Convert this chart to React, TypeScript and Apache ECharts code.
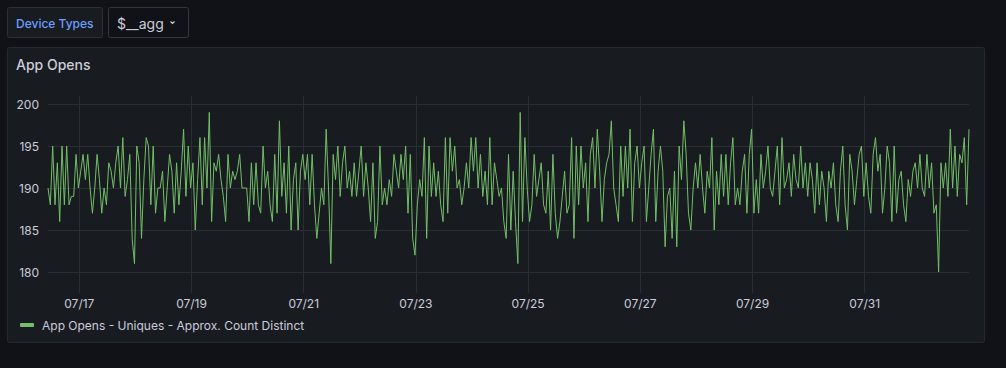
import React, { useEffect, useRef } from "react";
import * as echarts from "echarts";

// Hourly values, App Opens - Uniques - Approx. Count Distinct
const opensA = [190,188,195,188,193,186,195,188,195,188,189,189,194,190,192,194,191,194,190,187,190,194,191,187,190,188,193,192,190,193,195,190,196,189,191,194,184,181,195,193,184,191,196,195,188,195,187,190];
const opensB = [190,192,186,190,194,192,187,193,188,192,197,189,195,190,193,185,191,196,188,196,190,199,186,193,192,194,191,189,186,194,190,192,191,192,194,190,190,190,186,193,188,193,188,187,195,190,192];
const opensC = [188,186,194,187,198,189,193,187,195,185,191,193,185,192,194,191,194,188,194,188,184,187,190,188,197,190,181,194,191,195,189,193,195,190,192,189,193,189,192,195,189,193,190,186,193,184,186];
const opensD = [195,188,190,188,191,189,194,192,190,194,191,195,187,194,184,182,188,191,189,196,184,195,189,193,189,192,188,186,196,187,196,192,195,190,191,188,190,193,190,196,192,196,190,194,189,192,188];
const opensE = [196,188,193,191,189,190,186,184,194,185,192,186,181,199,186,196,190,186,188,194,189,191,193,188,187,192,185,194,187,184,186,189,192,187,188,196,184,195,188,195,190,193,186,194,196,190,197];
const opensF = [192,186,191,193,194,198,190,188,186,195,189,195,190,197,186,193,195,190,193,195,186,190,194,197,186,192,195,192,183,189,190,184,192,183,195,191,198,194,187,185,190,193,190,194,190,187,192];
const opensG = [190,196,185,192,188,194,189,194,188,193,196,188,190,188,192,194,187,194,197,187,191,187,194,190,192,195,190,189,192,195,188,196,190,191,193,189,194,191,190,195,190,193,189,193,191,187,193];
const opensH = [188,192,190,186,192,190,193,188,186,192,195,188,185,194,192,188,191,194,195,189,193,189,187,194,196,192,194,187,190,195,193,186,195,187,191,192,188,186,191,189,192,193,190,194,190,189,194];
const opensI = [190,193,187,188,180,193,190,193,189,197,190,195,189,194,193,196,188,197];

const values = [...opensA, ...opensB, ...opensC, ...opensD, ...opensE, ...opensF, ...opensG, ...opensH, ...opensI];

// time in hours after 07/16 00:00
const START_HOUR = 10.6;
const STEP_HOURS = 1;
const tickHours = [24, 72, 120, 168, 216, 264, 312, 360];
const yTicks = { min: 180, max: 200, interval: 5 };
const SERIES_NAME = "App Opens - Uniques - Approx. Count Distinct";

const FONT = "Inter, 'Noto Sans', sans-serif";
const TEXT = "#ccccdc";

export default function App() {
  const ref = useRef<HTMLDivElement>(null);
  useEffect(() => {
    if (!ref.current) return;
    const chart = echarts.init(ref.current, null, { renderer: "svg" });
    const data = values.map((v, i) => [START_HOUR + i * STEP_HOURS, v]);
    const xMin = START_HOUR;
    const xMax = START_HOUR + (values.length - 1) * STEP_HOURS;
    const fmt = (v: number) => {
      const day = 16 + Math.round(v / 24);
      return "07/" + String(day).padStart(2, "0");
    };
    chart.setOption({
      animation: false,
      backgroundColor: "#111217",
      textStyle: { fontFamily: FONT },
      graphic: [
        { type: "rect", z: -10, shape: { x: 7.5, y: 47.5, width: 977, height: 295, r: 2 }, style: { fill: "#181b1f", stroke: "#25282d", lineWidth: 1 } },
        { type: "rect", z: -10, shape: { x: 7.5, y: 7.5, width: 95, height: 30, r: 2 }, style: { fill: "#181b1f", stroke: "#2c3036", lineWidth: 1 } },
        { type: "rect", z: -10, shape: { x: 108.5, y: 7.5, width: 80, height: 30, r: 2 }, style: { fill: "#111217", stroke: "#34373d", lineWidth: 1 } },
        { type: "text", style: { text: "Device Types", x: 16, y: 23, font: "500 12px " + FONT, fill: "#6e9fff", verticalAlign: "middle" } },
        { type: "text", style: { text: "$__agg", x: 117, y: 23, font: "14px " + FONT, fill: TEXT, verticalAlign: "middle" } },
        { type: "polyline", shape: { points: [[170.5, 21.5], [172.5, 23.5], [174.5, 21.5]] }, style: { stroke: TEXT, lineWidth: 1.2, fill: "none" } },
        { type: "text", style: { text: "App Opens", x: 16, y: 64, font: "500 14px " + FONT, fill: TEXT, verticalAlign: "middle" } },
      ],
      legend: {
        left: 15,
        top: 314,
        icon: "roundRect",
        itemWidth: 14,
        itemHeight: 4,
        textStyle: { color: TEXT, fontSize: 12, fontFamily: FONT, padding: [0, 0, 0, 3] },
        data: [SERIES_NAME],
      },
      grid: [
        { left: 48, top: 104, width: 921, height: 168 },
        { left: 48, top: 96, width: 921, height: 197 },
      ],
      xAxis: [
        { gridIndex: 0, type: "value", min: xMin, max: xMax, show: false },
        {
          gridIndex: 1,
          type: "value",
          min: xMin,
          max: xMax,
          axisLine: { show: false },
          axisTick: { show: false, customValues: tickHours },
          axisLabel: { customValues: tickHours, formatter: fmt, color: TEXT, fontSize: 12, fontFamily: FONT, margin: 4 },
          splitLine: { show: true, lineStyle: { color: "#2b2e33", width: 1 } },
        },
      ],
      yAxis: [
        {
          gridIndex: 0,
          type: "value",
          min: yTicks.min,
          max: yTicks.max,
          interval: yTicks.interval,
          axisLine: { show: false },
          axisTick: { show: false },
          axisLabel: { color: TEXT, fontSize: 12, fontFamily: FONT, margin: 9 },
          splitLine: { show: true, lineStyle: { color: "#2b2e33", width: 1 } },
        },
        { gridIndex: 1, type: "value", min: 0, max: 1, show: false },
      ],
      series: [
        {
          name: SERIES_NAME,
          type: "line",
          xAxisIndex: 0,
          yAxisIndex: 0,
          data,
          showSymbol: false,
          color: "#73bf69",
          lineStyle: { width: 1, color: "#73bf69" },
        },
      ],
    });
    return () => chart.dispose();
  }, []);
  return (
    <div style={{ position: "absolute", left: 0, top: 0, width: 1006, height: 368, background: "#111217" }}>
      <div ref={ref} style={{ width: 1006, height: 368 }} />
    </div>
  );
}
